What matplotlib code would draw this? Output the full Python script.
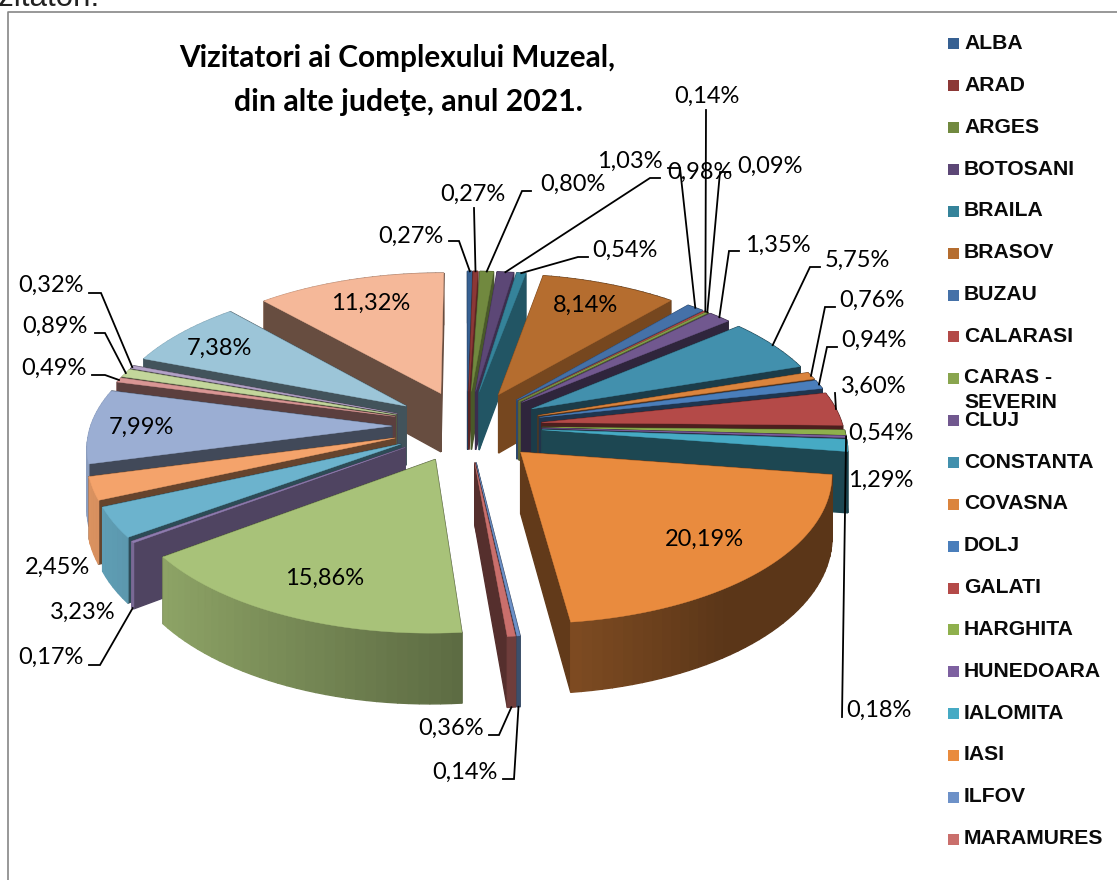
import numpy as np
import matplotlib
matplotlib.use('Agg')
import matplotlib.pyplot as plt
from matplotlib.colors import to_rgb
from matplotlib.patches import Polygon, Rectangle

counties = ['ALBA', 'ARAD', 'ARGES', 'BOTOSANI', 'BRAILA', 'BRASOV', 'BUZAU', 'CALARASI',
            'CARAS -\nSEVERIN', 'CLUJ', 'CONSTANTA', 'COVASNA', 'DOLJ', 'GALATI', 'HARGHITA',
            'HUNEDOARA', 'IALOMITA', 'IASI', 'ILFOV', 'MARAMURES']
values = [0.27, 0.27, 0.80, 0.98, 0.54, 8.14, 1.03, 0.14, 0.09, 1.35, 5.75, 0.76, 0.94, 3.60, 0.54,
          0.18, 1.29, 20.19, 0.14, 0.36, 15.86, 0.17, 3.23, 2.45, 7.99, 0.49, 0.89, 0.32, 7.38, 11.32]
colors = ['#366092', '#8c3836', '#71893f', '#5c4776', '#35839a', '#b56d2f', '#4571a8', '#b34a48',
          '#89a54e', '#71588f', '#4290ad', '#db843d', '#4a7ebb', '#b44a48', '#8fb04d',
          '#7d60a0', '#46aac4', '#e98b3e', '#6d91c8', '#ca6f6c', '#a8c279', '#8f7cb0', '#6cb3cd',
          '#f4a36b', '#9baed3', '#d99694', '#c3d69b', '#b3a2c7', '#9cc5d8', '#f5b899']

# label centres in pixels, same order as values
label_pos = [(411, 236), (473, 194), (573, 184), (700, 172), (625, 250), (585, 305), (630, 161),
             (707, 96), (770, 166), (778, 245), (857, 260), (872, 300), (874, 340), (874, 386),
             (881, 433), (879, 710), (881, 480), (704, 539), (465, 772), (451, 728), (325, 578),
             (51, 657), (83, 612), (57, 567), (141, 427), (54, 368), (55, 326), (51, 285),
             (219, 348), (371, 303)]
# leader elbows, and whether the line ends on the top (0) or the bottom (1) of the slice
leaders = {0: ([(449, 241), (459, 241)], 0), 1: ([(474, 208)], 0), 2: ([(531, 191), (522, 191)], 0),
           3: ([(660, 178), (650, 178)], 0), 4: ([(588, 257), (578, 257)], 0),
           6: ([(668, 168), (680, 168)], 0), 7: ([(706, 110)], 0), 8: ([(730, 172), (720, 172)], 0),
           9: ([(739, 251), (729, 251)], 0), 10: ([(820, 267), (810, 267)], 0),
           11: ([(835, 307), (825, 307)], 0), 12: ([(837, 347), (827, 347)], 0), 13: ([(835, 393)], 0),
           15: ([(842, 717)], 0), 18: ([(503, 779), (514, 779)], 1),
           19: ([(489, 735), (499, 735)], 1), 21: ([(89, 665), (100, 665)], 1),
           25: ([(92, 375), (105, 375)], 0), 26: ([(95, 333), (105, 333)], 0),
           27: ([(89, 293), (101, 293)], 0)}

# view of the pie
cx, cy = 467, 426
A, B, D = 301, 143, 60
k = 0.124
explode = 0.25


def project(u, v, z=0):
    s = 1 / (1 + k * v)
    return cx + A * u * s, cy - B * v * s + D * z * s


def shade(c, f):
    return tuple(x * f for x in to_rgb(c))


fig = plt.figure(figsize=(11.17, 8.8), dpi=100)
ax = fig.add_axes([0, 0, 1, 1])
ax.set_xlim(0, 1117)
ax.set_ylim(880, 0)
ax.axis('off')
label_font = ['Lato', 'DejaVu Sans']

edges = np.cumsum([0] + values) / sum(values) * 2 * np.pi
mids = (edges[:-1] + edges[1:]) / 2
order = np.argsort(-np.cos(mids))

for i in order:
    t0, t1, b = edges[i], edges[i + 1], mids[i]
    ox, oy = explode * np.sin(b), explode * np.cos(b)
    th = np.linspace(t0, t1, max(2, int((t1 - t0) / 0.03) + 1))
    us, vs = ox + np.sin(th), oy + np.cos(th)
    faces = []
    # curved outer wall, lit from the left
    for j in range(len(th) - 1):
        f = np.clip(0.58 - 0.33 * np.sin((th[j] + th[j + 1]) / 2), 0.39, 0.9)
        quad = [project(us[j], vs[j]), project(us[j + 1], vs[j + 1]),
                project(us[j + 1], vs[j + 1], 1), project(us[j], vs[j], 1)]
        faces.append(((vs[j] + vs[j + 1]) / 2, quad, f))
    # flat cut faces
    fr = 0.65 if np.cos(b) > 0.7 and np.sin(b) > 0 else 0.42
    if i == 21:
        fr = 0.55
    for uo, vo in ((us[0], vs[0]), (us[-1], vs[-1])):
        quad = [project(ox, oy), project(uo, vo), project(uo, vo, 1), project(ox, oy, 1)]
        faces.append(((oy + vo) / 2, quad, fr))
    for _, quad, f in sorted(faces, key=lambda q: -q[0]):
        c = shade(colors[i], f)
        ax.add_patch(Polygon(quad, closed=True, facecolor=c, edgecolor=c, linewidth=1.0, zorder=2))
    top = [project(ox, oy)] + [project(a, c) for a, c in zip(us, vs)]
    ax.add_patch(Polygon(top, closed=True, facecolor=colors[i], edgecolor=colors[i], linewidth=0.3, zorder=2))

for i, v in enumerate(values):
    x, y = label_pos[i]
    ax.text(x, y, f'{v:.2f}'.replace('.', ',') + '%', fontsize=17, family=label_font,
            ha='center', va='center', color='black', zorder=5)
    if i in leaders:
        pts, z = leaders[i]
        ox, oy = explode * np.sin(mids[i]), explode * np.cos(mids[i])
        end = project(ox + np.sin(mids[i]), oy + np.cos(mids[i]), z)
        xs, ys = zip(*(pts + [end]))
        ax.plot(xs, ys, color='black', lw=1.3, zorder=4, solid_joinstyle='miter')

ax.text(397, 58, 'Vizitatori ai Complexului Muzeal,', fontsize=21.4, family=label_font,
        fontweight='bold', ha='center', va='center', color='black')
ax.text(408, 102, 'din alte judeţe, anul 2021.', fontsize=21.8, family=label_font,
        fontweight='bold', ha='center', va='center', color='black')

# legend, only the first 20 entries fit
for i, name in enumerate(counties):
    y = 43.5 + 41.85 * i
    ax.add_patch(Rectangle((948, y - 5), 11, 11, facecolor=colors[i], edgecolor='none', zorder=3))
    ax.text(964, y - 10 if '\n' in name else y, name, fontsize=15.2, family='Liberation Sans', fontweight='bold',
            ha='left', va='top' if '\n' in name else 'center', linespacing=1.4, color='#0a0a0a', zorder=5)

# chart frame and the line of text above it
ax.plot([1117, 7.5, 7.5], [12.5, 12.5, 880], color='#868686', lw=1.2)
ax.text(100, 5.5, 'Vizitatori:', fontsize=22.5, family='Liberation Sans', ha='right', va='baseline', color='#222222')

fig.savefig('out.png', dpi=100)
